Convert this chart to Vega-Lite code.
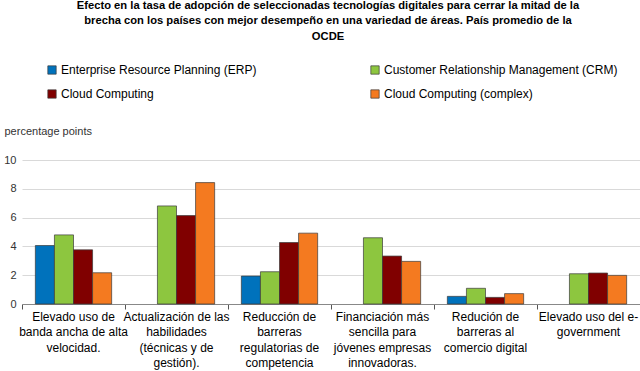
{
  "$schema": "https://vega.github.io/schema/vega-lite/v6.json",
  "width": 618,
  "height": 144,
  "autosize": {"type": "none"},
  "padding": {"left": 22, "top": 160, "right": 0, "bottom": 67},
  "background": "white",
  "title": {
    "text": ["Efecto en la tasa de adopción de seleccionadas tecnologías digitales para cerrar la mitad de la", "brecha con los países con mejor desempeño en una variedad de áreas. País promedio de la", "OCDE"],
    "font": "Liberation Sans",
    "fontSize": 11.2,
    "fontWeight": "bold",
    "color": "#000000",
    "anchor": "middle",
    "frame": "group",
    "lineHeight": 15.5,
    "offset": 22,
    "dx": -3
  },
  "data": {
    "values": [
      {"category": "Elevado uso de|banda ancha de alta|velocidad.", "series": "Enterprise Resource Planning (ERP)", "value": 4.06},
      {"category": "Elevado uso de|banda ancha de alta|velocidad.", "series": "Customer Relationship Management (CRM)", "value": 4.8},
      {"category": "Elevado uso de|banda ancha de alta|velocidad.", "series": "Cloud Computing", "value": 3.76},
      {"category": "Elevado uso de|banda ancha de alta|velocidad.", "series": "Cloud Computing (complex)", "value": 2.17},
      {"category": "Actualización de las|habilidades|(técnicas y de|gestión).", "series": "Customer Relationship Management (CRM)", "value": 6.81},
      {"category": "Actualización de las|habilidades|(técnicas y de|gestión).", "series": "Cloud Computing", "value": 6.14},
      {"category": "Actualización de las|habilidades|(técnicas y de|gestión).", "series": "Cloud Computing (complex)", "value": 8.43},
      {"category": "Reducción de|barreras|regulatorias de|competencia", "series": "Enterprise Resource Planning (ERP)", "value": 1.94},
      {"category": "Reducción de|barreras|regulatorias de|competencia", "series": "Customer Relationship Management (CRM)", "value": 2.24},
      {"category": "Reducción de|barreras|regulatorias de|competencia", "series": "Cloud Computing", "value": 4.27},
      {"category": "Reducción de|barreras|regulatorias de|competencia", "series": "Cloud Computing (complex)", "value": 4.92},
      {"category": "Financiación más|sencilla para|jóvenes empresas|innovadoras.", "series": "Customer Relationship Management (CRM)", "value": 4.6},
      {"category": "Financiación más|sencilla para|jóvenes empresas|innovadoras.", "series": "Cloud Computing", "value": 3.33},
      {"category": "Financiación más|sencilla para|jóvenes empresas|innovadoras.", "series": "Cloud Computing (complex)", "value": 2.96},
      {"category": "Redución de|barreras al|comercio digital", "series": "Enterprise Resource Planning (ERP)", "value": 0.53},
      {"category": "Redución de|barreras al|comercio digital", "series": "Customer Relationship Management (CRM)", "value": 1.09},
      {"category": "Redución de|barreras al|comercio digital", "series": "Cloud Computing", "value": 0.46},
      {"category": "Redución de|barreras al|comercio digital", "series": "Cloud Computing (complex)", "value": 0.72},
      {"category": "Elevado uso del e-|government", "series": "Customer Relationship Management (CRM)", "value": 2.1},
      {"category": "Elevado uso del e-|government", "series": "Cloud Computing", "value": 2.15},
      {"category": "Elevado uso del e-|government", "series": "Cloud Computing (complex)", "value": 1.99}
    ]
  },
  "mark": {"type": "bar", "stroke": "#3a3a3a", "strokeWidth": 0.7},
  "encoding": {
    "x": {
      "field": "category",
      "type": "nominal",
      "sort": null,
      "scale": {"paddingInner": 0, "paddingOuter": 0},
      "axis": {
        "title": null,
        "labelExpr": "split(datum.label, '|')",
        "labelAngle": 0,
        "labelFont": "Liberation Sans",
        "labelFontSize": 12,
        "labelColor": "#000000",
        "labelLineHeight": 15.5,
        "labelPadding": 2,
        "labelBaseline": "top",
        "labelLimit": 200,
        "bandPosition": 0,
        "tickSize": 5,
        "tickColor": "#555555",
        "domainColor": "#888888",
        "grid": false
      }
    },
    "xOffset": {
      "field": "series",
      "type": "nominal",
      "scale": {
        "domain": ["Enterprise Resource Planning (ERP)", "Customer Relationship Management (CRM)", "Cloud Computing", "Cloud Computing (complex)"],
        "paddingInner": 0,
        "paddingOuter": 0.7
      }
    },
    "y": {
      "field": "value",
      "type": "quantitative",
      "scale": {"domain": [0, 10]},
      "axis": {
        "values": [0, 2, 4, 6, 8, 10],
        "title": "percentage points",
        "titleAngle": 0,
        "titleAlign": "left",
        "titleBaseline": "middle",
        "titleX": -18,
        "titleY": -29,
        "titleFont": "Liberation Sans",
        "titleFontSize": 11,
        "titleFontWeight": "normal",
        "titleColor": "#333333",
        "labelFont": "Liberation Sans",
        "labelFontSize": 11,
        "labelColor": "#333333",
        "labelPadding": 6,
        "domain": false,
        "ticks": false,
        "gridColor": "#d9d9d9"
      }
    },
    "color": {
      "field": "series",
      "type": "nominal",
      "scale": {
        "domain": ["Enterprise Resource Planning (ERP)", "Cloud Computing", "Customer Relationship Management (CRM)", "Cloud Computing (complex)"],
        "range": ["#0072BC", "#800000", "#8DC63F", "#F47A20"]
      },
      "legend": {
        "title": null,
        "orient": "none",
        "legendX": 24,
        "legendY": -96,
        "columns": 2,
        "columnPadding": 112,
        "rowPadding": 12,
        "symbolType": "square",
        "symbolSize": 70,
        "symbolStrokeColor": "#3a3a3a",
        "symbolStrokeWidth": 0.7,
        "labelFont": "Liberation Sans",
        "labelFontSize": 12,
        "labelColor": "#000000",
        "labelOffset": 3,
        "labelLimit": 400
      }
    }
  },
  "config": {
    "view": {"stroke": null}
  }
}
